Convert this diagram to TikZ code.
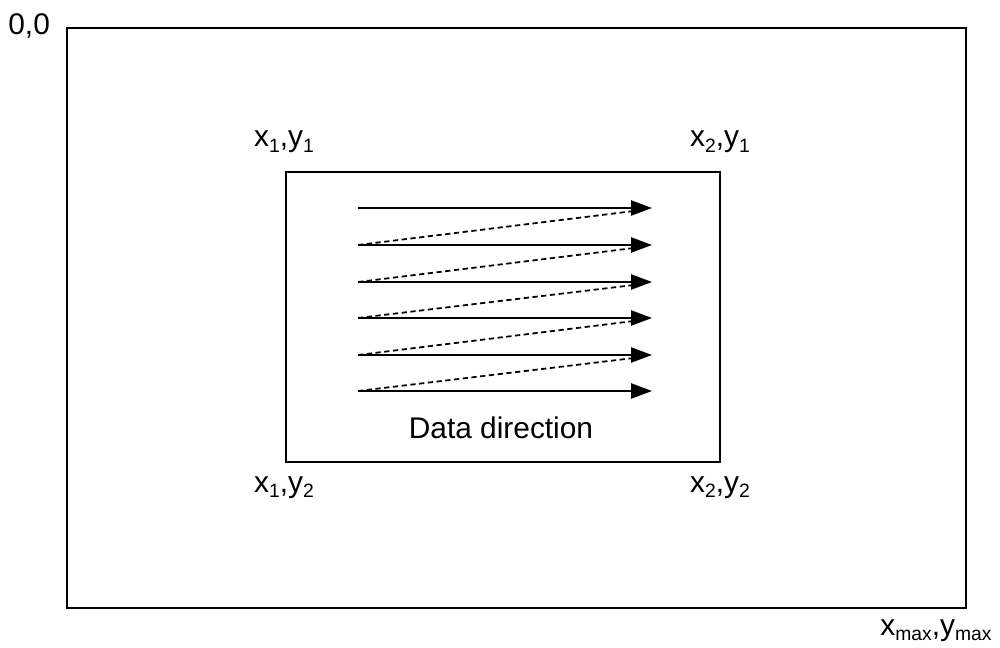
\documentclass[tikz,border=0pt]{standalone}
\usepackage{fontspec}
\setmainfont{Liberation Sans}
\usetikzlibrary{arrows.meta, positioning}
\newcommand{\lowsub}[1]{\raisebox{-3.4pt}{\fontsize{11}{12}\selectfont #1}}
\tikzset{
    framebox/.style={
        draw=black,
        line width=1.5pt
    },
    rowarrow/.style={
        -{Triangle[length=0.42cm, width=0.3cm]},
        line width=1.4pt,
        draw=black
    },
    returnline/.style={
        densely dashed,
        line width=1pt,
        draw=black
    },
    cornerlabel/.style={
        font=\fontsize{17}{20}\selectfont,
        inner sep=0pt,
        anchor=base
    }
}

\begin{document}
\begin{tikzpicture}[x=0.02cm, y=-0.02cm]
    \useasboundingbox (0,0) rectangle (1000,648);

    % screen and window
    \draw[framebox] (67,28) rectangle (966,608);
    \draw[framebox] (286,172) rectangle (720,462);

    % scan rows
    \foreach \i/\y in {1/208, 2/245, 3/282, 4/318, 5/355, 6/391} {
        \coordinate (s\i) at (358,\y);
        \coordinate (e\i) at (652,\y);
        \draw[rowarrow] (s\i) -- (e\i);
    }
    \foreach \i [evaluate=\i as \j using int(\i+1)] in {1,...,5}
        \draw[returnline] (s\j) -- ([shift={(-18,3)}]e\i);

    % corner labels
    \node[cornerlabel, anchor=base west] (origin) at (8,35) {0,0};
    \node[cornerlabel] (tl) at (284,147) {x\lowsub{1},y\lowsub{1}};
    \node[cornerlabel] (tr) at (720,147) {x\lowsub{2},y\lowsub{1}};
    \node[cornerlabel] (bl) at (284,492) {x\lowsub{1},y\lowsub{2}};
    \node[cornerlabel] (brw) at (720,492) {x\lowsub{2},y\lowsub{2}};
    \node[cornerlabel, anchor=base west] (corner) at (880,635) {x\lowsub{max},y\lowsub{max}};
    \node[cornerlabel] (caption) at (501,438) {Data direction};
\end{tikzpicture}
\end{document}
